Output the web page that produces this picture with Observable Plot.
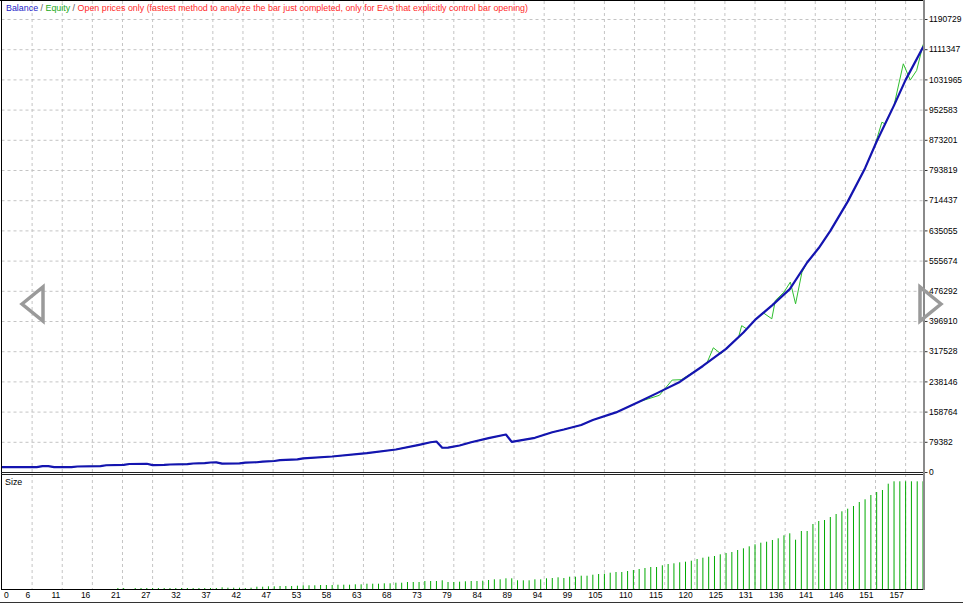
<!DOCTYPE html>
<html><head><meta charset="utf-8">
<script src="https://cdn.jsdelivr.net/npm/d3@7"></script>
<script src="https://cdn.jsdelivr.net/npm/@observablehq/plot@0.6"></script>
<style>
body{margin:0;background:#fff;overflow:hidden;font-family:"Liberation Sans",Arial,sans-serif;}
#wrap{position:relative;width:963px;height:605px;background:#fff;}
.abs{position:absolute;}
#title{left:6px;top:1px;font-size:8.9px;line-height:14px;white-space:nowrap;}
#sizeLbl{left:5px;top:476px;font-size:8.9px;line-height:12px;color:#000;}
</style></head><body><div id="wrap"></div>
<script>
// ---- data ----
const balanceIdx = [0,6,7,8,9,12,13,17,18,21,22,25,26,28,29,32,33,35,36,37,38,41,42,44,45,47,48,51,52,57,63,68,72,74,75,76,77,79,81,84,87,88,92,95,97,100,102,106,110,113,117,121,125,128,130,133,136,139,141,143,146,149,151,154,156,159];
const balanceVal = [13900,14000,16600,16600,14200,14200,15800,16600,19000,20200,22300,22900,19400,19800,21000,22000,23600,24600,26300,26600,23500,24000,25800,27000,28700,30200,32300,34300,37000,42100,50700,60500,72800,79600,81500,65000,65500,71000,79600,90200,99900,80500,91200,105900,113000,125000,138000,158000,186000,208000,238000,280000,325000,368000,401000,440000,482000,552000,590000,635000,712000,800000,870000,965000,1032000,1118000];
// equity: same as balance up to trade 110, then these points
const equityTailIdx = [113.5,115.7,117.3,121,121.7,122.8,124.1,125,127.2,127.7,128.6,130,131.4,132.9,133.5,135,136.1,137,138.1,139,141,143,146,149,150.7,151.9,152.4,154,155.6,156.8,157.9,159];
const equityTailVal = [203000,243000,244000,280000,288000,327800,312000,325000,358000,386000,377000,401000,420000,404000,452000,474000,500500,443400,526500,552000,590000,635000,712000,800000,860000,920800,916600,965000,1074300,1031500,1056700,1124000];
const sizeLots = [
0,0,0,0,0,0,0,0,0,0, 0,0,0,0,0,0,0,0,0,0,
0.1,0.1,0,0.1,0.1,0.1,0.1,0.1,0.1,0.1, 0.1,0.1,0.1,0.1,0.1,0.1,0.1,0.1,0.17,0.13,
0.13,0.13,0.1,0.13,0.23,0.23,0.27,0.27,0.3,0.3, 0.3,0.33,0.37,0.37,0.37,0.4,0.4,0.4,0.43,0.43,
0.43,0.47,0.47,0.53,0.53,0.53,0.57,0.57,0.63,0.63, 0.7,0.7,0.7,0.8,0.8,0.8,0.87,0.7,0.7,0.73,
0.77,0.8,0.8,0.83,0.9,0.97,0.97,1.07,1.07,0.87, 0.87,0.87,0.97,0.97,1.07,1.1,1.17,1.1,1.23,1.23,
1.33,1.33,1.43,1.5,1.53,1.63,1.7,1.7,1.8,1.9, 2.0,2.1,2.2,2.2,2.37,2.5,2.57,2.67,2.73,2.83,
3.0,3.13,3.23,3.3,3.47,3.6,3.7,3.9,4.07,4.27, 4.47,4.63,4.73,4.9,5.07,5.37,5.57,4.93,5.8,5.8,
6.5,6.8,6.9,7.2,7.5,7.77,8.03,8.3,8.7,8.97, 9.4,9.7,9.9,10.53,10.77,10.77,10.77,10.77,10.77,10.77];
const xTickLabels = [0,6,11,16,21,27,32,37,42,47,53,58,63,68,73,79,84,89,94,99,105,110,115,120,125,131,136,141,146,151,157];
const yTickValues = [0,79382,158764,238146,317528,396910,476292,555674,635055,714437,793819,873201,952583,1031965,1111347,1190729];
const gridStep = 5.2; // trades between vertical grid lines

// ---- tables ----
const balance = balanceIdx.map((i,k)=>({i, v: balanceVal[k]}));
const equity = balance.filter(d=>d.i<=110).concat(equityTailIdx.map((i,k)=>({i, v: equityTailVal[k]})));
const sizes = sizeLots.map((v,i)=>({i, v})).filter(d=>d.v>0);
const xTicks = xTickLabels.map((lab,k)=>({pos: k*gridStep, lab: String(lab), k}));
const nTrades = sizeLots.length - 1;

const style = {fontFamily:"'Liberation Sans',Arial,sans-serif", fontSize:"8.5px", background:"transparent", color:"#000", overflow:"visible"};
const gridStyle = {stroke:"#c4c4c4", strokeDasharray:"3,3", strokeWidth:1};
const W = 963, mL = 1.5, mR = 40.5;

const yTop = yTickValues[yTickValues.length-1] * 471 / 453;

const main = Plot.plot({
  width: W, height: 475, marginLeft: mL, marginRight: mR, marginTop: 1, marginBottom: 3,
  style,
  x: {domain: [0, nTrades], axis: null},
  y: {domain: [0, yTop], axis: null},
  marks: [
    Plot.ruleX(xTicks.filter(d=>d.k>0), {x: "pos", ...gridStyle}),
    Plot.ruleY(yTickValues.slice(1), gridStyle),
    Plot.line(equity, {x: "i", y: "v", stroke: "#2fbf2f", strokeWidth: 1}),
    Plot.line(balance, {x: "i", y: "v", stroke: "#1414b0", strokeWidth: 2.2, strokeLinejoin: "round"}),
    Plot.axisY(yTickValues, {anchor: "right", label: null, tickSize: 4, tickPadding: 2, tickFormat: d => String(d), fontSize: 8.5, stroke: "#333"})
  ]
});

const sizePlot = Plot.plot({
  width: W, height: 131, marginLeft: mL, marginRight: mR, marginTop: 0, marginBottom: 16,
  style,
  x: {domain: [0, nTrades], axis: null},
  y: {domain: [0, 11.5], axis: null},
  marks: [
    Plot.ruleX(xTicks.filter(d=>d.k>0), {x: "pos", ...gridStyle}),
    Plot.ruleX(sizes, {x: "i", y1: 0, y2: "v", stroke: "#00aa00", strokeWidth: 1}),
    Plot.text(xTicks.filter(d=>d.k===0), {x: "pos", text: "lab", frameAnchor: "bottom", dy: 8, dx: 2, textAnchor: "start", fontSize: 8.5, fill: "#000"}),
    Plot.text(xTicks.filter(d=>d.k>0), {x: "pos", text: "lab", frameAnchor: "bottom", dy: 8, dx: -2, textAnchor: "end", fontSize: 8.5, fill: "#000"})
  ]
});

const wrap = document.getElementById("wrap");
function place(el, top){ const d = document.createElement("div"); d.className="abs"; d.style.left="0px"; d.style.top=top+"px"; d.appendChild(el); wrap.appendChild(d); }
place(main, 0);
place(sizePlot, 474);

function line(l,t,w,h,c){ const d=document.createElement("div"); d.className="abs"; Object.assign(d.style,{left:l+"px",top:t+"px",width:w+"px",height:h+"px",background:c}); wrap.appendChild(d); }
line(0,0,924,1,"#000");       // top
line(1,0,1,590,"#000");       // left
line(1,472,923,1,"#222");     // main bottom
line(1,474,923,1,"#222");     // size top
line(1,589,923,1,"#000");     // size bottom
line(923,0,2,590,"#8a8a8a");  // right axis line
line(0,602,963,1,"#333");     // window bottom

const title = document.createElement("div"); title.id="title"; title.className="abs";
title.innerHTML = '<span style="color:#2323c8">Balance</span><span style="color:#555"> / </span><span style="color:#22aa22">Equity</span><span style="color:#555"> / </span><span style="color:#ff2a2a">Open prices only (fastest method to analyze the bar just completed, only for EAs that explicitly control bar opening)</span>';
wrap.appendChild(title);
const sl = document.createElement("div"); sl.id="sizeLbl"; sl.className="abs"; sl.textContent="Size"; wrap.appendChild(sl);

// navigation arrows (UI decoration)
const ns="http://www.w3.org/2000/svg";
const svg=document.createElementNS(ns,"svg"); svg.setAttribute("width",963); svg.setAttribute("height",605);
svg.setAttribute("class","abs"); svg.style.left="0px"; svg.style.top="0px"; svg.style.pointerEvents="none";
[["22,304 43,287 43,321"],["941,304 920,287 920,321"]].forEach(p=>{
  const pg=document.createElementNS(ns,"polygon"); pg.setAttribute("points",p[0]);
  pg.setAttribute("fill","none"); pg.setAttribute("stroke","#9a9a9a"); pg.setAttribute("stroke-width","3.5"); pg.setAttribute("stroke-linejoin","miter");
  svg.appendChild(pg);
});
wrap.appendChild(svg);
</script></body></html>
